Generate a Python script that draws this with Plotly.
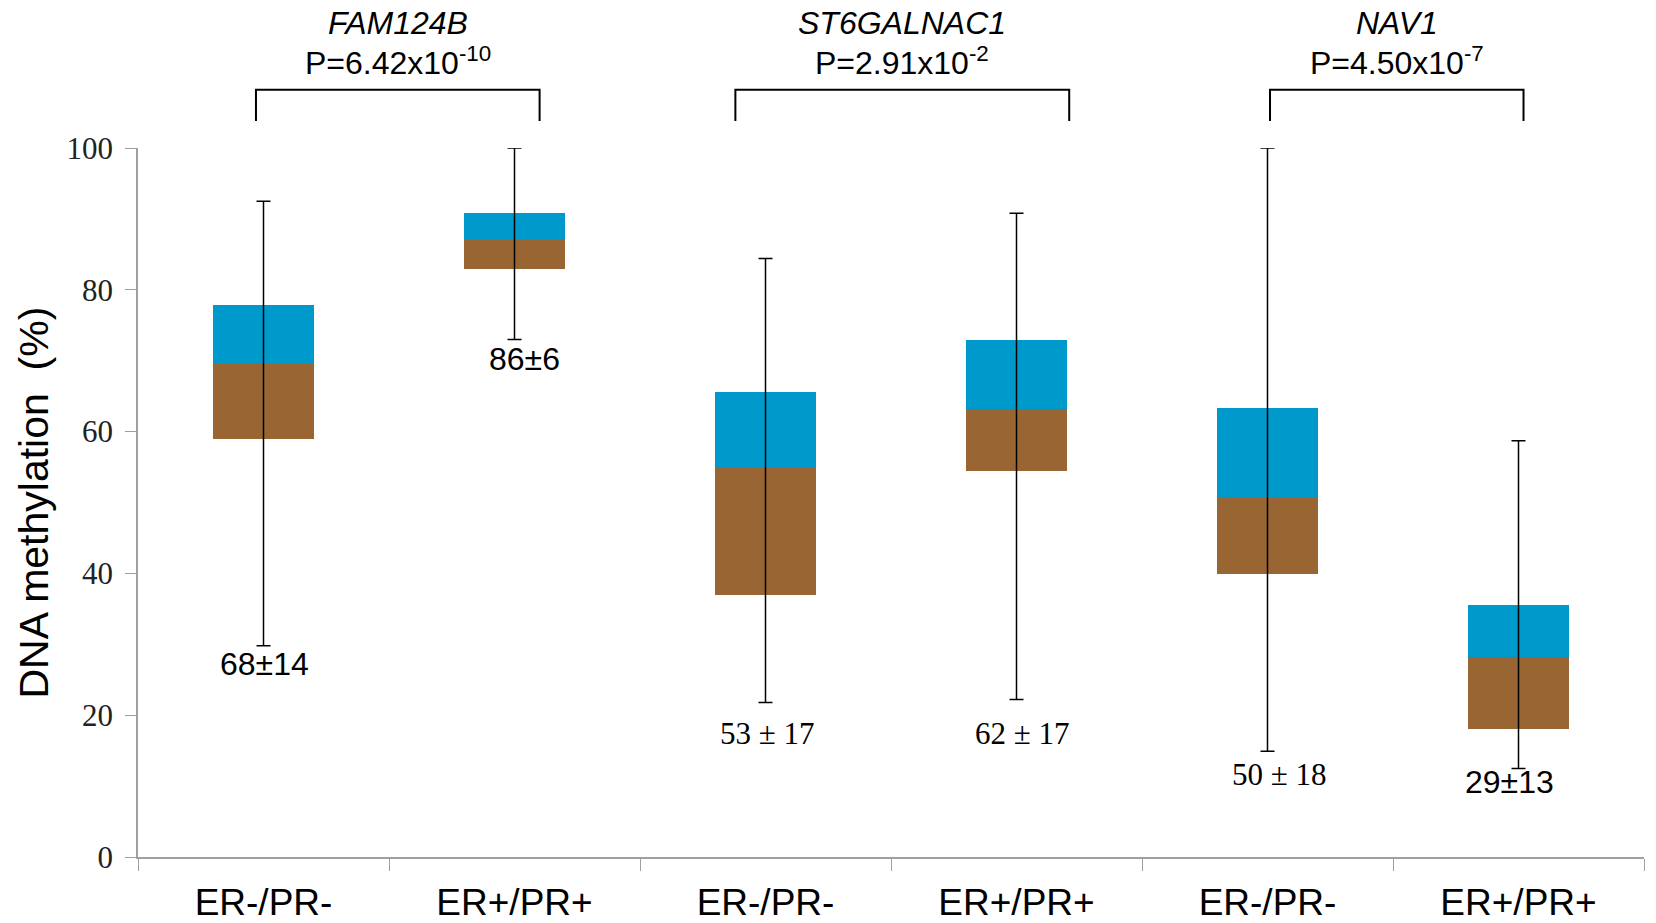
import plotly.graph_objects as go

# ---- data ----
genes = ["FAM124B", "ST6GALNAC1", "NAV1"]
p_values = ["6.42x10<sup>-10</sup>", "2.91x10<sup>-2</sup>", "4.50x10<sup>-7</sup>"]
categories = ["ER-/PR-", "ER+/PR+", "ER-/PR-", "ER+/PR+", "ER-/PR-", "ER+/PR+"]
q1 = [58.9, 83.0, 37.0, 54.4, 39.9, 18.0]
median = [69.6, 87.0, 54.8, 63.2, 50.7, 28.2]
q3 = [77.8, 90.8, 65.6, 72.9, 63.3, 35.5]
whisker_min = [29.8, 73.0, 21.8, 22.2, 14.9, 12.5]
whisker_max = [92.5, 100.0, 84.4, 90.8, 100.0, 58.7]
labels = ["68±14", "86±6", "53 ± 17", "62 ± 17", "50 ± 18", "29±13"]

# ---- style ----
BROWN = "#996633"
BLUE = "#0099CC"
SANS = "Liberation Sans, Arial, sans-serif"
SERIF = "Liberation Serif, Times New Roman, serif"
label_fonts = [SANS, SANS, SERIF, SERIF, SERIF, SANS]
label_sizes = [32, 32, 31, 31, 31, 32]
label_dx = [1, 10, 2, 6, 12, -9]
label_dy = [-18, -20, -31, -34, -23, -14]
bracket_ends = [(-0.03, 1.10), (1.88, 3.21), (4.01, 5.02)]

x = list(range(len(categories)))

fig = go.Figure()
fig.add_trace(go.Bar(
    x=x, y=[m - a for m, a in zip(median, q1)], base=q1,
    width=0.4, marker=dict(color=BROWN, line=dict(width=0)),
    showlegend=False, hoverinfo="skip"))
fig.add_trace(go.Bar(
    x=x, y=[b - m for b, m in zip(q3, median)], base=median,
    width=0.4, marker=dict(color=BLUE, line=dict(width=0)),
    showlegend=False, hoverinfo="skip"))
fig.add_trace(go.Scatter(
    x=x, y=median, mode="markers", marker=dict(opacity=0),
    error_y=dict(type="data", symmetric=False,
                 array=[mx - m for mx, m in zip(whisker_max, median)],
                 arrayminus=[m - mn for m, mn in zip(median, whisker_min)],
                 width=7, thickness=1.5, color="black"),
    showlegend=False, hoverinfo="skip", cliponaxis=False))

annotations = []
for i, lab in enumerate(labels):
    annotations.append(dict(
        x=x[i], y=whisker_min[i], xref="x", yref="y", text=lab,
        showarrow=False, xanchor="center", yanchor="middle",
        xshift=label_dx[i], yshift=label_dy[i],
        font=dict(family=label_fonts[i], size=label_sizes[i], color="black")))

shapes = []
for g, (gene, pv, (x0, x1)) in enumerate(zip(genes, p_values, bracket_ends)):
    shapes.append(dict(type="path", xref="x", yref="paper",
                       path=f"M {x0},1.038 L {x0},1.082 L {x1},1.082 L {x1},1.038",
                       line=dict(color="black", width=2)))
    xc = (x0 + x1) / 2
    annotations.append(dict(x=xc, y=1.176, xref="x", yref="paper", text=f"<i>{gene}</i>",
                            showarrow=False, xanchor="center", yanchor="middle",
                            font=dict(family=SANS, size=32, color="black")))
    annotations.append(dict(x=xc, y=1.123, xref="x", yref="paper", text=f"P={pv}",
                            showarrow=False, xanchor="center", yanchor="middle",
                            font=dict(family=SANS, size=32, color="black")))

annotations.append(dict(x=-0.0697, y=0.5, xref="paper", yref="paper",
                        text="DNA methylation\u00a0 (%)", textangle=-90,
                        showarrow=False, xanchor="center", yanchor="middle",
                        font=dict(family=SANS, size=41, color="black")))

fig.update_layout(
    width=1656, height=923,
    margin=dict(l=138, r=12, t=148, b=66),
    paper_bgcolor="white", plot_bgcolor="white",
    barmode="overlay", bargap=0,
    annotations=annotations, shapes=shapes,
    xaxis=dict(range=[-0.5, 5.5], tickvals=x, ticktext=categories,
               automargin=False,
               ticks="", showline=True, linecolor="#A0A0A0", linewidth=1.5,
               showgrid=False, zeroline=False,
               tickfont=dict(family=SANS, size=37, color="black"),
               ticklabelstandoff=12,
               minor=dict(tickmode="linear", tick0=-0.5, dtick=1, ticks="outside",
                          ticklen=12, tickcolor="#A0A0A0", tickwidth=1, showgrid=False)),
    yaxis=dict(range=[0, 100], tickvals=[0, 20, 40, 60, 80, 100],
               automargin=False,
               ticks="outside", ticklen=11, tickcolor="#A0A0A0", tickwidth=1,
               showline=True, linecolor="#A0A0A0", linewidth=1.5,
               showgrid=False, zeroline=False,
               tickfont=dict(family=SERIF, size=31, color="#222222"),
               ticklabelstandoff=6),
)

fig.write_html("out.html",
               config={"displayModeBar": False},
               post_script="document.body.style.margin='0';document.body.style.padding='0';")
